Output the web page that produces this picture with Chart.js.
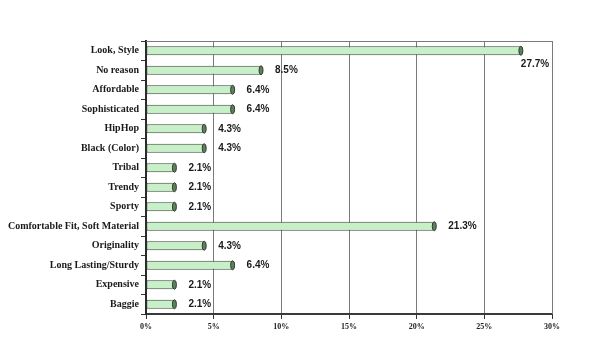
<!DOCTYPE html>
<html>
<head>
<meta charset="utf-8">
<script src="https://cdn.jsdelivr.net/npm/chart.js@4/dist/chart.umd.min.js"></script>
<style>
html,body{margin:0;padding:0;background:#fff;}
#wrap{width:600px;height:356px;position:relative;}
</style>
</head>
<body>
<div id="wrap"><canvas id="c" width="600" height="356"></canvas></div>
<script>
const categories = ["Look, Style","No reason","Affordable","Sophisticated","HipHop","Black (Color)","Tribal","Trendy","Sporty","Comfortable Fit, Soft Material","Originality","Long Lasting/Sturdy","Expensive","Baggie"];
const values = [27.7, 8.5, 6.4, 6.4, 4.3, 4.3, 2.1, 2.1, 2.1, 21.3, 4.3, 6.4, 2.1, 2.1];
const valueLabels = ["27.7%","8.5%","6.4%","6.4%","4.3%","4.3%","2.1%","2.1%","2.1%","21.3%","4.3%","6.4%","2.1%","2.1%"];
const xTicks = [0,5,10,15,20,25,30];

const framePlugin = {
  id:'frame',
  beforeDatasetsDraw(chart){
    const {ctx, chartArea:a} = chart;
    ctx.save();
    ctx.strokeStyle = '#7a7a7a';
    ctx.lineWidth = 1;
    ctx.beginPath();
    ctx.moveTo(a.left, a.top+0.5); ctx.lineTo(a.right+0.5, a.top+0.5);
    ctx.lineTo(a.right+0.5, a.bottom);
    ctx.stroke();
    ctx.restore();
  }
};

const capPlugin = {
  id:'caps',
  afterDatasetsDraw(chart){
    const {ctx} = chart;
    const meta = chart.getDatasetMeta(0);
    ctx.save();
    meta.data.forEach((bar,i)=>{
      const h = bar.height;
      ctx.fillStyle = '#5f7f5f';
      ctx.strokeStyle = '#2f3f2f';
      ctx.lineWidth = 1;
      ctx.beginPath();
      ctx.ellipse(bar.x, bar.y, 2, h/2, 0, 0, Math.PI*2);
      ctx.fill(); ctx.stroke();
      ctx.fillStyle = '#1a1a1a';
      ctx.font = 'bold 10px "Liberation Sans", Arial, sans-serif';
      ctx.textBaseline = 'middle';
      ctx.textAlign = 'left';
      if (i === 0) {
        ctx.fillText(valueLabels[i], bar.x, bar.y + 13);
      } else {
        ctx.fillText(valueLabels[i], bar.x + 14, bar.y);
      }
    });
    ctx.restore();
  }
};

new Chart(document.getElementById('c'), {
  type:'bar',
  data:{
    labels: categories,
    datasets:[{
      data: values,
      backgroundColor: (c)=>{
        const ch = c.chart; const a = ch.chartArea;
        if(!a) return '#c8f0c8';
        const bar = c.element;
        if(!bar || bar.y === undefined) return '#c8f0c8';
        const g = ch.ctx.createLinearGradient(0, bar.y-4, 0, bar.y+4);
        g.addColorStop(0,'#e2fae2');
        g.addColorStop(0.5,'#c2eec2');
        g.addColorStop(1,'#a6d8a6');
        return g;
      },
      borderColor:'#3a4a3a',
      borderWidth:1,
      borderSkipped:false,
      barPercentage:0.46,
      categoryPercentage:1
    }]
  },
  options:{
    indexAxis:'y',
    responsive:false,
    animation:false,
    devicePixelRatio:1,
    layout:{padding:{left:0, top:41, right:48, bottom:14}},
    plugins:{legend:{display:false}, tooltip:{enabled:false}},
    scales:{
      x:{
        min:0, max:30,
        afterBuildTicks(s){ s.ticks = xTicks.map(v=>({value:v})); },
        afterFit(s){ s.height = 28; },
        grid:{color:'#7a7a7a', lineWidth:1, tickLength:5, tickColor:'#333'},
        border:{color:'#3a3a3a', width:2},
        ticks:{
          callback:(v)=>v+'%',
          font:{family:'"Liberation Serif", "Times New Roman", serif', size:8, weight:'bold'},
          color:'#222', padding:3, maxRotation:0
        }
      },
      y:{
        afterFit(s){ s.width = 146; },
        grid:{drawOnChartArea:false, offset:true, tickLength:5, tickColor:'#333', color:'#333'},
        border:{color:'#2a2a2a', width:2},
        ticks:{
          font:{family:'"Liberation Serif", "Times New Roman", serif', size:10, weight:'bold'},
          color:'#1a1a1a', padding:2
        }
      }
    }
  },
  plugins:[framePlugin, capPlugin]
});
</script>
</body>
</html>
